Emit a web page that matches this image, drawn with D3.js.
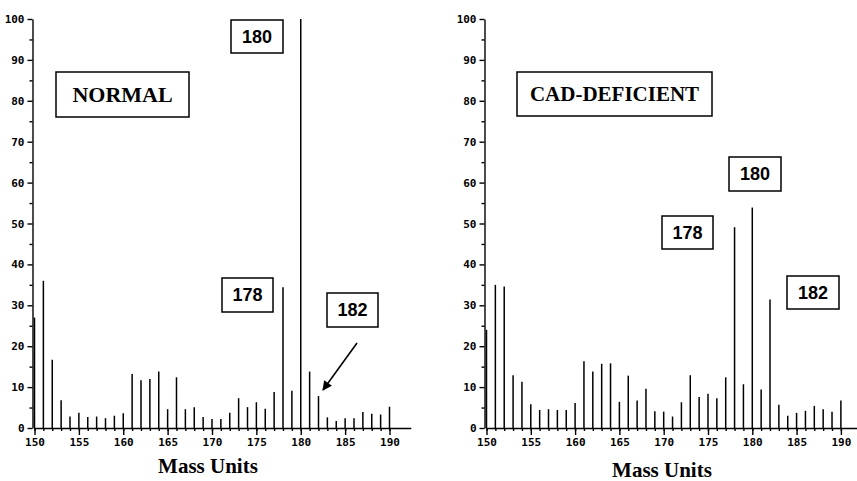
<!DOCTYPE html>
<html>
<head>
<meta charset="utf-8">
<script src="https://cdn.jsdelivr.net/npm/d3@7"></script>
<style>
  body { margin: 0; background: #fff; }
  svg { display: block; }
</style>
</head>
<body>
<div id="chart"></div>
<script>
// Data (relative abundance, %)
const masses = [150, 151, 152, 153, 154, 155, 156, 157, 158, 159, 160,
  161, 162, 163, 164, 165, 166, 167, 168, 169, 170,
  171, 172, 173, 174, 175, 176, 177, 178, 179, 180,
  181, 182, 183, 184, 185, 186, 187, 188, 189, 190];

const normal = [27, 36, 16.7, 6.8, 2.8, 3.7, 2.7, 2.8, 2.4, 3.0, 3.6,
  13.2, 11.7, 12.0, 13.8, 4.6, 12.4, 4.6, 5.1, 2.7, 2.2,
  2.2, 3.7, 7.3, 5.1, 6.3, 4.7, 8.8, 34.4, 9.1, 100,
  13.8, 7.8, 2.6, 1.7, 2.4, 2.4, 3.9, 3.5, 3.3, 5.2];

const cadDeficient = [24.0, 35.0, 34.6, 12.9, 11.3, 5.8, 4.4, 4.6, 4.4, 4.4, 6.1,
  16.3, 13.8, 15.7, 15.8, 6.4, 12.8, 6.7, 9.6, 4.1, 4.0,
  2.8, 6.3, 12.9, 7.6, 8.4, 7.3, 12.4, 49.1, 10.7, 53.9,
  9.4, 31.4, 5.7, 3.0, 3.7, 4.2, 5.4, 4.6, 4.0, 6.7];

const yTicks = [0, 10, 20, 30, 40, 50, 60, 70, 80, 90, 100];
const yMinorTicks = [5, 15, 25, 35, 45, 55, 65, 75, 85, 95];
const xTicks = [150, 155, 160, 165, 170, 175, 180, 185, 190];

const W = 857, H = 481;

const svg = d3.select("#chart")
  .append("svg")
    .attr("width", W)
    .attr("height", H);

const y = d3.scaleLinear().domain([0, 100]).range([428, 19]);

const panels = [
  {
    values: normal,
    x: d3.scaleLinear().domain([150, 192.4]).range([34.5, 410.8]),
    title: { text: "NORMAL", box: [56, 72, 189, 117], size: 22 },
    labels: [
      { text: "180", box: [231, 20, 283, 53] },
      { text: "178", box: [222, 278, 273, 312] },
      { text: "182", box: [327, 293, 378, 327] }
    ],
    arrow: [357, 343, 323, 390],
    xLabel: { x: 208, y: 473 }
  },
  {
    values: cadDeficient,
    x: d3.scaleLinear().domain([150, 192]).range([486.5, 858.6]),
    title: { text: "CAD-DEFICIENT", box: [517, 72, 712, 116], size: 21 },
    labels: [
      { text: "180", box: [729, 157, 781, 191] },
      { text: "178", box: [662, 216, 713, 249] },
      { text: "182", box: [787, 276, 839, 309] }
    ],
    arrow: null,
    xLabel: { x: 662, y: 477 }
  }
];

svg.append("defs").append("marker")
    .attr("id", "head")
    .attr("viewBox", "0 0 10 10")
    .attr("refX", 9).attr("refY", 5)
    .attr("markerWidth", 8).attr("markerHeight", 6)
    .attr("markerUnits", "strokeWidth")
    .attr("orient", "auto")
  .append("path")
    .attr("d", "M0,0 L10,5 L0,10 z")
    .attr("fill", "#000");

const tickFont = "'DejaVu Sans Mono', monospace";

panels.forEach(p => {
  const g = svg.append("g");
  const x = p.x;
  const x0 = x(150) - 2;

  // y axis (major + minor ticks)
  g.append("g")
    .attr("transform", `translate(${x0},0)`)
    .call(d3.axisLeft(y).tickValues(yTicks).tickSize(5).tickPadding(3).tickSizeOuter(0));
  g.append("g")
    .attr("transform", `translate(${x0},0)`)
    .call(d3.axisLeft(y).tickValues(yMinorTicks).tickSize(3).tickFormat("").tickSizeOuter(0))
    .select(".domain").remove();

  // x axis
  g.append("g")
    .attr("transform", `translate(0,${y(0)})`)
    .call(d3.axisBottom(x).tickValues(xTicks).tickSize(7).tickPadding(3).tickSizeOuter(0));
  g.append("g")
    .attr("transform", `translate(0,${y(0)})`)
    .call(d3.axisBottom(x).tickValues(masses).tickSize(3).tickFormat("").tickSizeOuter(0))
    .select(".domain").remove();

  g.selectAll(".domain, .tick line")
    .attr("stroke", "#000")
    .attr("stroke-width", 1.4);
  g.selectAll(".tick text")
    .attr("font-family", tickFont)
    .attr("font-weight", "bold")
    .attr("font-size", 11)
    .attr("fill", "#000");
  g.selectAll("g").attr("font-family", null);

  // peaks
  g.selectAll("line.peak")
    .data(masses.map((m, i) => ({ m, v: p.values[i] })))
    .enter().append("line")
      .attr("class", "peak")
      .attr("x1", d => x(d.m)).attr("x2", d => x(d.m))
      .attr("y1", y(0)).attr("y2", d => y(d.v))
      .attr("stroke", "#000")
      .attr("stroke-width", 1.5);

  // title box
  const t = p.title;
  g.append("rect")
    .attr("x", t.box[0]).attr("y", t.box[1])
    .attr("width", t.box[2] - t.box[0]).attr("height", t.box[3] - t.box[1])
    .attr("fill", "#fff").attr("stroke", "#000").attr("stroke-width", 1.5);
  g.append("text")
    .attr("x", (t.box[0] + t.box[2]) / 2)
    .attr("y", (t.box[1] + t.box[3]) / 2)
    .attr("dy", "0.35em")
    .attr("text-anchor", "middle")
    .attr("font-family", "'Liberation Serif', 'Times New Roman', serif")
    .attr("font-weight", "bold")
    .attr("font-size", t.size)
    .text(t.text);

  // peak label boxes
  p.labels.forEach(l => {
    g.append("rect")
      .attr("x", l.box[0]).attr("y", l.box[1])
      .attr("width", l.box[2] - l.box[0]).attr("height", l.box[3] - l.box[1])
      .attr("fill", "#fff").attr("stroke", "#000").attr("stroke-width", 1.5);
    g.append("text")
      .attr("x", (l.box[0] + l.box[2]) / 2)
      .attr("y", (l.box[1] + l.box[3]) / 2)
      .attr("dy", "0.36em")
      .attr("text-anchor", "middle")
      .attr("font-family", "'Liberation Sans', Arial, sans-serif")
      .attr("font-weight", "bold")
      .attr("font-size", 18)
      .text(l.text);
  });

  if (p.arrow) {
    g.append("line")
      .attr("x1", p.arrow[0]).attr("y1", p.arrow[1])
      .attr("x2", p.arrow[2]).attr("y2", p.arrow[3])
      .attr("stroke", "#000")
      .attr("stroke-width", 1.6)
      .attr("marker-end", "url(#head)");
  }

  g.append("text")
    .attr("x", p.xLabel.x).attr("y", p.xLabel.y)
    .attr("text-anchor", "middle")
    .attr("font-family", "'Liberation Serif', 'Times New Roman', serif")
    .attr("font-weight", "bold")
    .attr("font-size", 21)
    .text("Mass Units");
});
</script>
</body>
</html>
